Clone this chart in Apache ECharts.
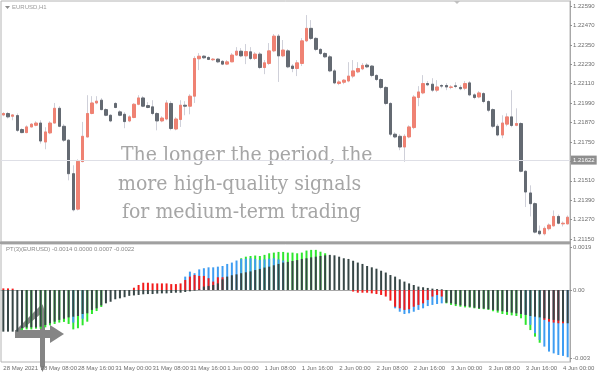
<!DOCTYPE html>
<html>
<head>
<meta charset="utf-8">
<script src="https://cdn.jsdelivr.net/npm/echarts@6.0.0/dist/echarts.min.js"></script>
<style>
  html, body { margin: 0; padding: 0; background: #fff; }
  #chart { width: 600px; height: 376px; }
</style>
</head>
<body>
<div id="chart"></div>
<script>
const _ = null

// EURUSD H1 candles, 28 May 00:00 .. 4 Jun 01:00
const opens = [
  1.21917, 1.21926, 1.21909, 1.21913, 1.21827, 1.21808, 1.21843, 1.21853, 1.21867, 1.21750,
  1.21806, 1.21867, 1.21958, 1.21847, 1.21761, 1.21554, 1.21335, 1.21629, 1.21781, 1.21926,
  1.21991, 1.22008, 1.21950, 1.21915, 1.21988, 1.21936, 1.21921, 1.21880, 1.21901, 1.21983,
  1.22022, 1.21975, 1.21967, 1.21926, 1.21880, 1.21892, 1.21988, 1.21830, 1.21889, 1.21977,
  1.21971, 1.22033, 1.22264, 1.22280, 1.22272, 1.22258, 1.22262, 1.22248, 1.22231, 1.22245,
  1.22287, 1.22311, 1.22282, 1.22307, 1.22266, 1.22293, 1.22210, 1.22235, 1.22313, 1.22404,
  1.22282, 1.22313, 1.22219, 1.22204, 1.22235, 1.22375, 1.22452, 1.22390, 1.22322, 1.22297,
  1.22276, 1.22189, 1.22111, 1.22119, 1.22127, 1.22157, 1.22183, 1.22202, 1.22225, 1.22219,
  1.22161, 1.22136, 1.22087, 1.21988, 1.21798, 1.21785, 1.21719, 1.21781, 1.21839, 1.22025,
  1.22053, 1.22111, 1.22107, 1.22070, 1.22099, 1.22099, 1.22087, 1.22097, 1.22087, 1.22082,
  1.22115, 1.22041, 1.22028, 1.22049, 1.22000, 1.21950, 1.21847, 1.21793, 1.21860, 1.21905,
  1.21853, 1.21864, 1.21569, 1.21435, 1.21369, 1.21199, 1.21183, 1.21214, 1.21232, 1.21290,
  1.21244, 1.21244
]
const closes = [
  1.21926, 1.21905, 1.21917, 1.21822, 1.21808, 1.21843, 1.21860, 1.21867, 1.21756, 1.21812,
  1.21867, 1.21958, 1.21847, 1.21761, 1.21554, 1.21331, 1.21631, 1.21785, 1.21926, 1.21991,
  1.22002, 1.21950, 1.21915, 1.21880, 1.21963, 1.21915, 1.21876, 1.21905, 1.21983, 1.22022,
  1.21971, 1.21963, 1.21926, 1.21880, 1.21898, 1.21991, 1.21833, 1.21892, 1.21977, 1.21971,
  1.22033, 1.22266, 1.22280, 1.22270, 1.22260, 1.22262, 1.22245, 1.22231, 1.22245, 1.22287,
  1.22311, 1.22282, 1.22309, 1.22266, 1.22293, 1.22210, 1.22239, 1.22313, 1.22404, 1.22282,
  1.22318, 1.22214, 1.22204, 1.22239, 1.22375, 1.22452, 1.22390, 1.22322, 1.22297, 1.22276,
  1.22189, 1.22115, 1.22121, 1.22132, 1.22157, 1.22189, 1.22204, 1.22223, 1.22214, 1.22161,
  1.22136, 1.22087, 1.21988, 1.21798, 1.21781, 1.21719, 1.21785, 1.21843, 1.22028, 1.22059,
  1.22111, 1.22103, 1.22070, 1.22090, 1.22095, 1.22090, 1.22090, 1.22093, 1.22079, 1.22111,
  1.22041, 1.22025, 1.22053, 1.22000, 1.21946, 1.21847, 1.21793, 1.21867, 1.21905, 1.21852,
  1.21864, 1.21569, 1.21441, 1.21369, 1.21193, 1.21183, 1.21216, 1.21237, 1.21290, 1.21248,
  1.21248, 1.21285
]
const lows = [
  1.21909, 1.21895, 1.21884, 1.21812, 1.21804, 1.21804, 1.21841, 1.21847, 1.21740, 1.21705,
  1.21798, 1.21866, 1.21841, 1.21750, 1.21513, 1.21321, 1.21327, 1.21624, 1.21779, 1.21921,
  1.21983, 1.21946, 1.21909, 1.21872, 1.21958, 1.21909, 1.21835, 1.21872, 1.21897, 1.21977,
  1.21965, 1.21958, 1.21915, 1.21822, 1.21872, 1.21884, 1.21822, 1.21822, 1.21843, 1.21915,
  1.21921, 1.21991, 1.22194, 1.22262, 1.22256, 1.22250, 1.22237, 1.22225, 1.22225, 1.22243,
  1.22281, 1.22274, 1.22231, 1.22256, 1.22256, 1.22200, 1.22169, 1.22225, 1.22305, 1.22121,
  1.22274, 1.22206, 1.22181, 1.22157, 1.22219, 1.22367, 1.22380, 1.22311, 1.22287, 1.22268,
  1.22181, 1.22107, 1.22101, 1.22107, 1.22119, 1.22144, 1.22175, 1.22194, 1.22206, 1.22150,
  1.22126, 1.22076, 1.21977, 1.21785, 1.21773, 1.21699, 1.21627, 1.21773, 1.21829, 1.21971,
  1.22045, 1.22095, 1.22058, 1.22058, 1.22082, 1.22070, 1.22076, 1.22082, 1.22070, 1.22070,
  1.22033, 1.22014, 1.22020, 1.21989, 1.21934, 1.21835, 1.21785, 1.21773, 1.21847, 1.21841,
  1.21847, 1.21562, 1.21348, 1.21290, 1.21185, 1.21173, 1.21173, 1.21203, 1.21228, 1.21241,
  1.21228, 1.21241
]
const highs = [
  1.21934, 1.21936, 1.21921, 1.21926, 1.21835, 1.21853, 1.21866, 1.21878, 1.21884, 1.21841,
  1.21878, 1.21991, 1.21971, 1.21860, 1.21767, 1.21606, 1.21643, 1.21874, 1.22039, 1.22033,
  1.22033, 1.22021, 1.21958, 1.21921, 1.21996, 1.21946, 1.21934, 1.21915, 1.21990, 1.22039,
  1.22033, 1.21996, 1.22008, 1.21934, 1.21909, 1.22008, 1.22002, 1.21903, 1.22008, 1.22002,
  1.22045, 1.22280, 1.22299, 1.22287, 1.22280, 1.22268, 1.22268, 1.22256, 1.22256, 1.22299,
  1.22336, 1.22330, 1.22355, 1.22336, 1.22305, 1.22305, 1.22256, 1.22361, 1.22417, 1.22417,
  1.22380, 1.22324, 1.22231, 1.22256, 1.22392, 1.22534, 1.22503, 1.22398, 1.22330, 1.22305,
  1.22287, 1.22200, 1.22132, 1.22138, 1.22243, 1.22256, 1.22243, 1.22237, 1.22237, 1.22225,
  1.22169, 1.22144, 1.22095, 1.21996, 1.21810, 1.21798, 1.21798, 1.21853, 1.22039, 1.22095,
  1.22163, 1.22126, 1.22144, 1.22132, 1.22107, 1.22113, 1.22101, 1.22119, 1.22101, 1.22126,
  1.22126, 1.22051, 1.22064, 1.22058, 1.22008, 1.21958, 1.21860, 1.21915, 1.21927, 1.22070,
  1.21958, 1.21872, 1.21575, 1.21482, 1.21377, 1.21234, 1.21228, 1.21247, 1.21327, 1.21302,
  1.21259, 1.21296
]

// PT(3) indicator buffers, all drawn from zero (back to front: green, blue, red, dark)
const ptDark = [
  -0.00184, -0.00184, -0.00184, -0.00184, -0.00169, -0.00166, -0.00165, -0.00165, -0.00162, -0.00155,
  -0.00147, -0.00140, -0.00132, -0.00127, -0.00121, -0.00118, -0.00115, -0.00106, -0.00103, -0.00088,
  -0.00081, -0.00068, -0.00059, -0.00052, -0.00041, -0.00037, -0.00032, -0.00026, -0.00024, -0.00022,
  -0.00019, -0.00018, -0.00018, -0.00016, -0.00015, -0.00015, -0.00013, -0.00012, -0.00012, -0.00009,
  -0.00006, -0.00003, 0.00003, 0.00015, 0.00018, 0.00022, 0.00029, 0.00047, 0.00059, 0.00065,
  0.00069, 0.00074, 0.00078, 0.00082, 0.00088, 0.00093, 0.00099, 0.00103, 0.00109, 0.00115,
  0.00121, 0.00124, 0.00128, 0.00132, 0.00137, 0.00140, 0.00144, 0.00147, 0.00150, 0.00153,
  0.00155, 0.00153, 0.00147, 0.00140, 0.00137, 0.00129, 0.00121, 0.00115, 0.00106, 0.00100,
  0.00094, 0.00085, 0.00077, 0.00066, 0.00059, 0.00047, 0.00037, 0.00029, 0.00022, 0.00015,
  0.00012, 0.00009, 0.00006, 0.00004, 0.00003, -0.00056, -0.00059, -0.00063, -0.00068, -0.00071,
  -0.00074, -0.00078, -0.00081, -0.00082, -0.00085, -0.00088, -0.00091, -0.00094, -0.00097, -0.00100,
  -0.00103, -0.00106, -0.00110, -0.00115, -0.00118, -0.00121, -0.00125, -0.00128, -0.00132, -0.00135,
  -0.00140, -0.00147
]
const ptRed = [
  0.00007, 0.00007, 0.00006, _, _, _, _, _, _, _,
  _, _, _, _, _, _, _, _, _, _,
  _, _, _, _, _, _, _, _, 0.00010, 0.00022,
  0.00032, 0.00032, 0.00029, 0.00029, 0.00029, 0.00029, 0.00026, 0.00026, 0.00029, 0.00044,
  0.00059, 0.00066, 0.00062, 0.00062, 0.00052, 0.00037, 0.00056, 0.00056, _, _,
  _, _, _, _, _, _, _, _, _, _,
  _, _, _, _, _, _, _, _, _, _,
  _, _, _, _, _, -0.00007, -0.00012, -0.00012, -0.00012, -0.00015,
  -0.00018, -0.00022, -0.00029, -0.00047, -0.00074, -0.00081, -0.00088, -0.00085, -0.00074, -0.00066,
  -0.00059, -0.00044, -0.00029, -0.00022, -0.00029, _, _, _, _, _,
  _, _, _, _, _, _, _, _, _, _,
  _, _, _, _, _, _, -0.00132, -0.00140, -0.00144, -0.00147,
  -0.00147, _
]
const ptBlue = [
  _, _, _, _, _, _, _, _, _, _,
  _, _, _, _, _, -0.00144, _, -0.00127, _, _,
  _, _, _, _, _, _, _, _, _, _,
  _, _, _, _, _, _, _, _, _, 0.00059,
  0.00081, 0.00074, 0.00091, 0.00096, 0.00100, 0.00100, 0.00103, 0.00106, 0.00115, 0.00121,
  0.00130, 0.00137, 0.00138, 0.00140, 0.00137, 0.00132, 0.00135, 0.00138, 0.00140, 0.00135,
  0.00130, _, _, _, _, _, _, _, _, _,
  _, _, _, _, _, _, _, _, _, _,
  _, _, _, _, -0.00081, -0.00096, -0.00106, -0.00103, -0.00096, -0.00088,
  -0.00081, -0.00071, -0.00066, -0.00062, -0.00059, _, _, _, _, _,
  _, _, _, _, _, _, _, _, _, _,
  _, _, -0.00110, -0.00154, -0.00191, -0.00221, -0.00250, -0.00272, -0.00280, -0.00287,
  -0.00291, -0.00297
]
const ptGreen = [
  _, _, _, _, -0.00177, -0.00174, -0.00174, -0.00171, -0.00171, -0.00165,
  -0.00156, -0.00150, -0.00144, -0.00141, -0.00150, -0.00174, -0.00169, -0.00156, -0.00140, -0.00106,
  -0.00093, -0.00075, _, _, _, _, _, _, _, _,
  _, _, _, _, _, _, _, _, _, _,
  _, _, _, _, _, _, _, _, _, _,
  _, 0.00140, 0.00147, 0.00150, 0.00152, 0.00150, 0.00155, 0.00162, 0.00165, 0.00168,
  0.00168, 0.00165, 0.00165, 0.00162, 0.00165, 0.00174, 0.00177, 0.00177, 0.00169, 0.00162,
  _, _, _, _, _, _, _, _, _, _,
  _, _, _, _, _, _, _, _, _, _,
  _, _, _, _, _, -0.00059, -0.00066, -0.00071, -0.00074, -0.00077,
  -0.00078, -0.00081, -0.00084, -0.00085, -0.00088, -0.00094, -0.00100, -0.00106, -0.00110, -0.00112,
  -0.00115, -0.00125, -0.00154, -0.00177, -0.00206, -0.00233, _, _, _, _,
  _, _
]

// one label every 8 bars
const timeLabels = [
  '28 May 2021', '28 May 08:00', '28 May 16:00', '31 May 00:00', '31 May 08:00', '31 May 16:00',
  '1 Jun 00:00', '1 Jun 08:00', '1 Jun 16:00', '2 Jun 00:00', '2 Jun 08:00', '2 Jun 16:00',
  '3 Jun 00:00', '3 Jun 08:00', '3 Jun 16:00', '4 Jun 00:00'
]
const priceTicks = [1.2115, 1.2127, 1.2139, 1.2151, 1.2163, 1.2175, 1.2187, 1.2199, 1.2211, 1.2223, 1.2235, 1.2247, 1.2259]
const ptTicks = [-0.003, 0, 0.0019]
const ptTickLabels = ['-0.003', '0.00', '0.0019']
const bidPrice = 1.21638
const bidLabel = '1.21622'

const categories = opens.map((o, i) => i)
const wicks = opens.map((o, i) => [o, closes[i], lows[i], highs[i]])
const bodies = opens.map((o, i) => [o, closes[i], Math.min(o, closes[i]), Math.max(o, closes[i])])

const UP = '#ef8273'
const DOWN = '#646a72'
const AXIS_TEXT = '#6e6e6e'
const FONT = 'Liberation Sans'
const SLAB = '"DejaVu Serif Condensed", "DejaVu Serif", serif'
const everyEighth = (i) => i % 8 === 0

const chart = echarts.init(document.getElementById('chart'), null, { renderer: 'canvas' })

function ptBar(name, data, color) {
  return {
    name,
    type: 'bar',
    xAxisIndex: 1,
    yAxisIndex: 1,
    data,
    barWidth: 2,
    barGap: '-100%',
    itemStyle: { color },
    silent: true
  }
}

chart.setOption({
  animation: false,
  backgroundColor: '#ffffff',
  grid: [
    { left: 1, right: 30, top: 1, height: 241, show: true, borderColor: '#b4b4b4', borderWidth: 1 },
    { left: 1, right: 30, top: 244, height: 118, show: true, borderColor: '#b4b4b4', borderWidth: 1 }
  ],
  xAxis: [{
    type: 'category',
    gridIndex: 0,
    data: categories,
    axisLine: { show: false },
    axisTick: { show: false },
    axisLabel: { show: false }
  }, {
    type: 'category',
    gridIndex: 1,
    data: categories,
    axisLine: { lineStyle: { color: '#a8a8a8' } },
    axisTick: { interval: everyEighth, alignWithLabel: true, length: 2, lineStyle: { color: '#909090' } },
    axisLabel: {
      interval: everyEighth,
      formatter: (v, i) => timeLabels[i / 8],
      align: 'left',
      margin: 3,
      fontSize: 6,
      fontFamily: FONT,
      color: AXIS_TEXT
    }
  }],
  yAxis: [{
    type: 'value',
    gridIndex: 0,
    position: 'right',
    min: 1.21132,
    max: 1.22621,
    splitLine: { show: false },
    axisLine: { show: true, lineStyle: { color: '#a8a8a8' } },
    axisTick: { show: true, customValues: priceTicks, length: 2, lineStyle: { color: '#909090' } },
    axisLabel: {
      customValues: priceTicks,
      formatter: (v) => v.toFixed(5),
      margin: 3,
      fontSize: 6,
      fontFamily: FONT,
      color: AXIS_TEXT
    }
  }, {
    type: 'value',
    gridIndex: 1,
    position: 'right',
    min: -0.00318,
    max: 0.00203,
    splitLine: { show: false },
    axisLine: { show: true, lineStyle: { color: '#a8a8a8' } },
    axisTick: { show: true, customValues: ptTicks, length: 2, lineStyle: { color: '#909090' } },
    axisLabel: {
      customValues: ptTicks,
      formatter: (v) => {
        let k = 0
        ptTicks.forEach((t, j) => { if (Math.abs(t - v) < Math.abs(ptTicks[k] - v)) k = j })
        return ptTickLabels[k]
      },
      margin: 3,
      fontSize: 6,
      fontFamily: FONT,
      color: AXIS_TEXT
    }
  }],
  series: [{
    // bid line only
    type: 'line',
    xAxisIndex: 0,
    yAxisIndex: 0,
    data: [],
    silent: true,
    markLine: {
      silent: true,
      symbol: 'none',
      precision: 5, // default 2 rounds the price to 1.22
      lineStyle: { color: '#dedfe6', width: 1, type: 'solid' },
      label: {
        position: 'end',
        distance: 1,
        formatter: bidLabel,
        backgroundColor: '#8e8e8e',
        color: '#ffffff',
        fontSize: 6,
        fontFamily: FONT,
        padding: [2, 2, 1, 2]
      },
      data: [{ yAxis: bidPrice }]
    }
  }, {
    // wicks only, the body series covers the box
    type: 'candlestick',
    xAxisIndex: 0,
    yAxisIndex: 0,
    data: wicks,
    barWidth: 2,
    silent: true,
    itemStyle: {
      color: 'transparent',
      color0: 'transparent',
      borderColor: '#cfd0d9',
      borderColor0: '#cfd0d9',
      borderWidth: 1
    }
  }, {
    type: 'candlestick',
    xAxisIndex: 0,
    yAxisIndex: 0,
    data: bodies,
    barWidth: 3,
    silent: true,
    itemStyle: {
      color: UP,
      color0: DOWN,
      borderColor: UP,
      borderColor0: DOWN,
      borderWidth: 1
    }
  },
  ptBar('green', ptGreen, '#2ee62e'),
  ptBar('blue', ptBlue, '#3f9df2'),
  ptBar('red', ptRed, '#f21c1c'),
  ptBar('dark', ptDark, '#374646')
  ],
  graphic: [
    // window separator
    { type: 'rect', shape: { x: 0, y: 241.5, width: 571, height: 2.5 }, style: { fill: '#a0a0a0' }, silent: true },
    // window captions
    { type: 'polygon', shape: { points: [[5, 6], [10, 6], [7.5, 9]] }, style: { fill: '#8a8a8a' }, silent: true },
    { type: 'text', left: 12, top: 4, style: { text: 'EURUSD,H1', fontSize: 6, fontFamily: FONT, fill: '#9a9a9a' }, silent: true },
    { type: 'polygon', shape: { points: [[454, 1], [460, 1], [457, 4]] }, style: { fill: '#c0c0c0' }, silent: true },
    { type: 'text', left: 6, top: 246, style: { text: 'PT(3)(EURUSD) -0.0014 0.0000 0.0007 -0.0022', fontSize: 6, fontFamily: FONT, fill: '#8a8a8a' }, silent: true },
    // overlay caption
    {
      type: 'group',
      silent: true,
      children: [
        { type: 'text', x: 121, y: 156, style: { text: 'The longer the period, the', fontSize: 21, fontFamily: SLAB, fill: '#a6a6a6', verticalAlign: 'middle' } },
        { type: 'text', x: 118, y: 185, style: { text: 'more high-quality signals', fontSize: 21, fontFamily: SLAB, fill: '#a6a6a6', verticalAlign: 'middle' } },
        { type: 'text', x: 122, y: 213, style: { text: 'for medium-term trading', fontSize: 21, fontFamily: SLAB, fill: '#a6a6a6', verticalAlign: 'middle' } }
      ]
    },
    // watermark logo
    {
      type: 'group',
      silent: true,
      children: [
        { type: 'polygon', shape: { points: [[40, 312], [42.5, 304], [45, 312], [45, 366], [42.5, 372], [40, 366]] }, style: { fill: '#858585' } },
        { type: 'polygon', shape: { points: [[40, 306], [42, 313], [20, 331], [15, 331]] }, style: { fill: '#858585' } },
        { type: 'rect', shape: { x: 15, y: 330, width: 37, height: 8 }, style: { fill: '#858585' } },
        { type: 'polygon', shape: { points: [[50, 325], [64, 334], [50, 343]] }, style: { fill: '#858585' } }
      ]
    }
  ]
})
</script>
</body>
</html>
